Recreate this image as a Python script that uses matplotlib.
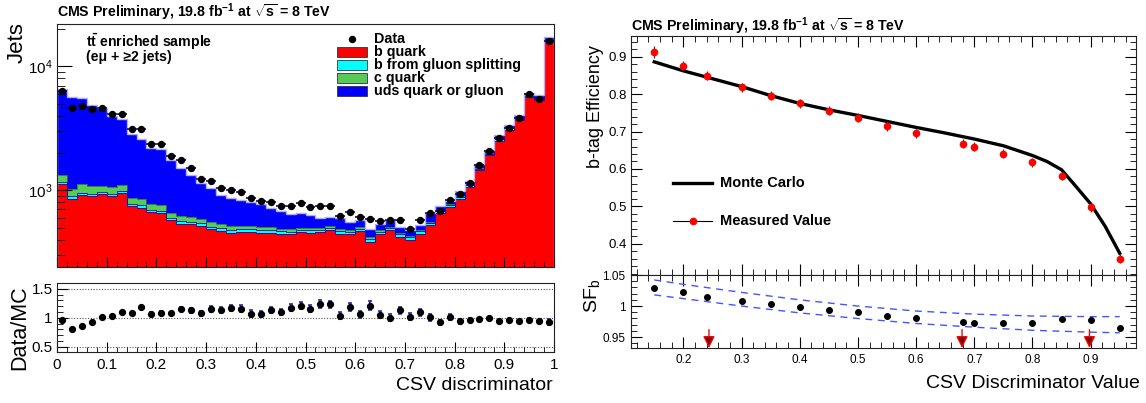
import numpy as np
import matplotlib
matplotlib.use("Agg")
import matplotlib.pyplot as plt
from matplotlib.ticker import MultipleLocator, FixedLocator, NullFormatter, FuncFormatter
from matplotlib.patches import Rectangle

plt.rcParams['font.family'] = ['Liberation Sans', 'DejaVu Sans']
plt.rcParams['mathtext.fontset'] = 'custom'
plt.rcParams['mathtext.rm'] = 'Liberation Sans'
plt.rcParams['mathtext.it'] = 'Liberation Sans:italic'
plt.rcParams['mathtext.bf'] = 'Liberation Sans:bold'

# ---------------- CSV discriminator distribution (50 bins, 0..1) ----------------
data = [6300, 4600, 4750, 4550, 4600, 4100, 4100, 3100, 3100, 2350,
        2350, 1880, 1745, 1500, 1240, 1190, 1050, 1000, 960, 862,
        826, 811, 747, 747, 795, 730, 747, 747, 617, 665,
        605, 591, 562, 570, 575, 490, 575, 656, 685, 841,
        929, 1138, 1590, 2075, 2630, 3200, 3810, 5940, 5490, 16000]

b_quark = [1118, 850, 911, 895, 929, 895, 951, 747, 725, 668,
           656, 573, 538, 532, 515, 484, 469, 453, 461, 461,
           455, 455, 444, 441, 457, 455, 457, 476, 447, 441,
           470, 383, 441, 476, 421, 400, 447, 522, 656, 734,
           857, 1063, 1450, 1915, 2500, 3085, 3670, 5650, 5370, 15700]

b_gluon_split = [50, 45, 47, 45, 35, 40, 35, 33, 32, 30,
                 30, 28, 27, 26, 25, 24, 23, 22, 22, 22,
                 22, 22, 21, 21, 21, 21, 21, 21, 20, 20,
                 20, 20, 20, 20, 20, 19, 20, 22, 25, 27,
                 30, 35, 45, 55, 70, 85, 100, 150, 140, 420]

c_quark = [150, 135, 160, 140, 115, 125, 110, 80, 85, 75,
           75, 60, 55, 50, 45, 42, 40, 35, 30, 28,
           30, 25, 22, 25, 22, 20, 20, 18, 18, 18,
           16, 15, 14, 13, 14, 12, 12, 12, 12, 12,
           12, 12, 14, 16, 18, 20, 22, 30, 28, 60]

uds_gluon = [5245, 4649, 4425, 3834, 3494, 2905, 2631, 2010, 1763, 1423,
             1395, 1080, 897, 724, 563, 485, 389, 348, 315, 292,
             270, 216, 194, 151, 157, 137, 104, 92, 112, 80,
             66, 70, 60, 61, 54, 49, 44, 96, 52, 52,
             92, 75, 118, 110, 201, 143, 248, 294, 284, 1024]

ratio_err = [0.015, 0.015, 0.015, 0.015, 0.015, 0.017, 0.018, 0.02, 0.02, 0.022,
             0.022, 0.025, 0.03, 0.04, 0.045, 0.05, 0.05, 0.055, 0.055, 0.055,
             0.055, 0.055, 0.055, 0.06, 0.06, 0.06, 0.065, 0.065, 0.06, 0.065,
             0.06, 0.07, 0.06, 0.06, 0.06, 0.06, 0.06, 0.055, 0.05, 0.05,
             0.045, 0.03, 0.025, 0.025, 0.02, 0.02, 0.02, 0.02, 0.02, 0.05]

# ---------------- b-tag efficiency vs CSV working point ----------------
wp_csv = [0.15, 0.20, 0.24, 0.30, 0.35, 0.40, 0.45, 0.50, 0.55, 0.60,
          0.68, 0.70, 0.75, 0.80, 0.85, 0.90, 0.95]
eff_meas = [0.912, 0.876, 0.849, 0.818, 0.796, 0.775, 0.755, 0.737, 0.714, 0.696,
            0.667, 0.659, 0.641, 0.618, 0.582, 0.498, 0.361]
eff_err = [0.015, 0.012, 0.012, 0.012, 0.012, 0.012, 0.012, 0.012, 0.012, 0.012,
           0.012, 0.012, 0.012, 0.012, 0.012, 0.012, 0.012]

mc_csv = [0.15, 0.20, 0.25, 0.30, 0.35, 0.40, 0.45, 0.50, 0.55, 0.60,
          0.65, 0.70, 0.75, 0.80, 0.825, 0.85, 0.875, 0.90, 0.925, 0.95]
mc_eff = [0.886, 0.862, 0.841, 0.820, 0.796, 0.775, 0.758, 0.743, 0.727, 0.711,
          0.696, 0.680, 0.662, 0.636, 0.620, 0.598, 0.553, 0.507, 0.447, 0.375]

sf_b = [1.0295, 1.022, 1.014, 1.0076, 1.0026, 0.998, 0.994, 0.991, 0.984, 0.981,
        0.975, 0.973, 0.972, 0.973, 0.979, 0.978, 0.965]

band_csv = [0.15, 0.20, 0.30, 0.40, 0.50, 0.60, 0.70, 0.80, 0.90, 0.95]
sf_band_up = [1.042, 1.035, 1.022, 1.010, 1.000, 0.992, 0.987, 0.984, 0.983, 0.983]
sf_band_dn = [1.018, 1.012, 1.000, 0.989, 0.980, 0.972, 0.966, 0.961, 0.958, 0.957]

working_points = [0.244, 0.679, 0.898]

W, H = 1146, 403
fig = plt.figure(figsize=(W / 100, H / 100), dpi=100)


def box(l, t, r, b):
    return [l / W, 1 - b / H, (r - l) / W, (b - t) / H]


axL = fig.add_axes(box(57, 24, 554, 267))
axLr = fig.add_axes(box(57, 283, 554, 352))
axR = fig.add_axes(box(631, 36, 1136, 275))
axRr = fig.add_axes(box(631, 275, 1136, 348))

for ax in (axL, axLr, axR, axRr):
    for s in ax.spines.values():
        s.set_linewidth(0.8)
        s.set_color('#222222')

# ---------------- stacked histogram ----------------
edges = np.linspace(0, 1, 51)
centers = 0.5 * (edges[1:] + edges[:-1])
lv1 = np.array(b_quark, float)
lv2 = lv1 + np.array(b_gluon_split)
lv3 = lv2 + np.array(c_quark)
lv4 = lv3 + np.array(uds_gluon)
data_a = np.array(data, float)

axL.stairs(lv4, edges, baseline=lv3, fill=True, color='#0000ff', lw=0)
axL.stairs(lv3, edges, baseline=lv2, fill=True, color='#55cc55', lw=0)
axL.stairs(lv2, edges, baseline=lv1, fill=True, color='#00ffff', lw=0)
axL.stairs(lv1, edges, baseline=1, fill=True, color='#ff0000', lw=0)
axL.stairs(lv3, edges, color='#2a7a2a', lw=0.6)
axL.stairs(lv2, edges, color='#0000a0', lw=0.6)
axL.stairs(lv1, edges, color='#1010c0', lw=0.6)
axL.stairs(lv4, edges, color='#b0b0ff', lw=1.0)

axL.errorbar(centers, data_a, xerr=0.01, yerr=np.sqrt(data_a), fmt='o', ms=4.3,
             mfc='black', mec='black', ecolor='#101050', elinewidth=1.2, capsize=0, zorder=5)

axL.set_yscale('log')
axL.set_xlim(0, 1)
axL.set_ylim(240, 2.2e4)
axL.xaxis.set_major_locator(MultipleLocator(0.1))
axL.xaxis.set_minor_locator(MultipleLocator(0.02))
axL.xaxis.set_major_formatter(NullFormatter())
axL.yaxis.set_major_locator(FixedLocator([1e3, 1e4]))
axL.yaxis.set_minor_locator(FixedLocator([k * 10 ** e for e in (2, 3, 4) for k in range(2, 10)]))
axL.yaxis.set_minor_formatter(NullFormatter())
axL.yaxis.set_major_formatter(FuncFormatter(lambda v, p: r'$10^{%d}$' % round(np.log10(v))))
axL.tick_params(which='both', direction='in', top=False, right=False, labelsize=11, pad=3)
axL.tick_params(axis='x', which='major', length=7)
axL.tick_params(axis='x', which='minor', length=3.5)
axL.tick_params(axis='y', which='major', length=11)
axL.tick_params(axis='y', which='minor', length=5.5)


# legend of the stack
def px(l, t, r, b, x, y):
    return ((x - l) / (r - l), (b - y) / (b - t))


L = (57, 24, 554, 267)
mx, my = px(*L, 352, 39)
axL.plot([mx], [my], 'o', ms=4.3, color='black', transform=axL.transAxes, clip_on=False)
leg_rows = [('b quark', '#ff0000', 52), ('b from gluon splitting', '#00ffff', 65),
            ('c quark', '#55cc55', 78), ('uds quark or gluon', '#0000ff', 91)]
tx, _ = px(*L, 374, 0)
axL.text(tx, my, 'Data', transform=axL.transAxes, fontsize=10.3, fontweight='bold', va='center')
for lab, col, yc in leg_rows:
    x0, y0 = px(*L, 337, yc + 5)
    x1, y1 = px(*L, 367, yc - 5)
    axL.add_patch(Rectangle((x0, y0), x1 - x0, y1 - y0, transform=axL.transAxes,
                            facecolor=col, edgecolor='#333333', lw=0.6))
    axL.text(tx, (y0 + y1) / 2, lab, transform=axL.transAxes, fontsize=10.3,
             fontweight='bold', va='center')

fig.text(86 / W, 1 - 42 / H, r'$\mathbf{t\bar{t}}$ enriched sample', fontsize=10.2,
         fontweight='bold', va='center')
fig.text(86 / W, 1 - 57 / H, '(eμ + ≥2 jets)', fontsize=10.2, fontweight='bold', va='center')

# ---------------- Data/MC ratio ----------------
ratio = data_a / lv4
for yv in (0.5, 1.0, 1.5):
    axLr.axhline(yv, color='#555555', ls=(0, (1, 1.5)), lw=0.8, zorder=1)
axLr.errorbar(centers, ratio, yerr=ratio_err, fmt='o', ms=4.2, mfc='black', mec='black',
              ecolor='#2a2ab0', elinewidth=1.5, capsize=1.6, capthick=1.2, zorder=3)
axLr.set_xlim(0, 1)
axLr.set_ylim(0.41, 1.6)
axLr.xaxis.set_major_locator(MultipleLocator(0.1))
axLr.xaxis.set_minor_locator(MultipleLocator(0.02))
axLr.yaxis.set_major_locator(MultipleLocator(0.5))
axLr.yaxis.set_minor_locator(MultipleLocator(0.1))
axLr.xaxis.set_major_formatter(FuncFormatter(lambda v, p: '%g' % round(v, 2)))
axLr.yaxis.set_major_formatter(FuncFormatter(lambda v, p: '%g' % round(v, 2)))
axLr.tick_params(which='both', direction='in', top=False, right=False, labelsize=11)
axLr.tick_params(axis='x', which='major', length=7, pad=4)
axLr.tick_params(axis='x', which='minor', length=3.5)
axLr.tick_params(axis='y', which='major', length=8, pad=3)
axLr.tick_params(axis='y', which='minor', length=4)

fig.text(17 / W, 1 - 43 / H, 'Jets', rotation=90, fontsize=16, ha='center', va='center')
fig.text(20 / W, 1 - 328 / H, 'Data/MC', rotation=90, fontsize=15.5, ha='center', va='center')
fig.text(553 / W, 1 - 385 / H, 'CSV discriminator', fontsize=14, ha='right', va='center')

title = r'CMS Preliminary, 19.8 fb$^{\mathbf{-1}}$ at $\mathbf{\sqrt{s}}$ = 8 TeV'
fig.text(57 / W, 1 - 12 / H, title, fontsize=10.2, fontweight='bold', va='center')
fig.text(631 / W, 1 - 26 / H, title, fontsize=10.2, fontweight='bold', va='center')

# ---------------- efficiency ----------------
axR.plot(mc_csv, mc_eff, color='black', lw=2.4, zorder=2)
axR.errorbar(wp_csv, eff_meas, yerr=eff_err, fmt='o', ms=4.5, mfc='red', mec='red',
             ecolor='#333333', elinewidth=0.9, capsize=0, zorder=3)
axR.set_xlim(0.11, 0.978)
axR.set_ylim(0.317, 0.955)
axR.xaxis.set_major_locator(MultipleLocator(0.1))
axR.xaxis.set_minor_locator(MultipleLocator(0.02))
axR.yaxis.set_major_locator(MultipleLocator(0.1))
axR.yaxis.set_minor_locator(MultipleLocator(0.02))
axR.xaxis.set_major_formatter(NullFormatter())
axR.yaxis.set_major_formatter(FuncFormatter(lambda v, p: '%.1f' % v))
axR.tick_params(which='both', direction='in', top=True, right=True, labelsize=9.5)
axR.tick_params(which='major', length=8, pad=3)
axR.tick_params(which='minor', length=4)

Rb = (631, 36, 1136, 275)
x0, y0 = px(*Rb, 673, 183)
x1, _ = px(*Rb, 712, 183)
axR.plot([x0, x1], [y0, y0], color='black', lw=2.4, transform=axR.transAxes)
tx, _ = px(*Rb, 720, 0)
axR.text(tx, y0, 'Monte Carlo', transform=axR.transAxes, fontsize=10.5, fontweight='bold', va='center')
_, y2 = px(*Rb, 673, 221)
axR.plot([x0, x1], [y2, y2], color='black', lw=0.8, transform=axR.transAxes)
axR.plot([(x0 + x1) / 2], [y2], 'o', ms=4.5, color='red', transform=axR.transAxes)
axR.text(tx, y2, 'Measured Value', transform=axR.transAxes, fontsize=10.5, fontweight='bold', va='center')

fig.text(596 / W, 1 - 107 / H, 'b-tag Efficiency', rotation=90, fontsize=13, ha='center', va='center')

# ---------------- scale factor ----------------
axRr.plot(band_csv, sf_band_up, color='#4455ff', lw=1.0, dashes=(5, 4))
axRr.plot(band_csv, sf_band_dn, color='#4455ff', lw=1.0, dashes=(5, 4))
axRr.plot(wp_csv, sf_b, 'o', ms=4, color='black', zorder=3)
ylo = 0.9325
for wp in working_points:
    axRr.annotate('', xy=(wp, ylo), xytext=(wp, 0.962),
                  arrowprops=dict(arrowstyle='-|>,head_length=0.7,head_width=0.35',
                                  fc='#700000', ec='red', lw=1.0, shrinkA=0, shrinkB=0))
axRr.set_xlim(0.11, 0.978)
axRr.set_ylim(ylo, 1.05)
axRr.xaxis.set_major_locator(MultipleLocator(0.1))
axRr.xaxis.set_minor_locator(MultipleLocator(0.02))
axRr.yaxis.set_major_locator(MultipleLocator(0.05))
axRr.yaxis.set_minor_locator(MultipleLocator(0.01))
axRr.xaxis.set_major_formatter(FuncFormatter(lambda v, p: '%g' % round(v, 2)))
axRr.yaxis.set_major_formatter(FuncFormatter(lambda v, p: '%g' % round(v, 2)))
axRr.tick_params(which='both', direction='in', top=True, right=True, labelsize=8.5)
axRr.tick_params(which='major', length=8, pad=4)
axRr.tick_params(which='minor', length=4)

fig.text(592 / W, 1 - 296 / H, r'SF$_{\mathrm{b}}$', rotation=90, fontsize=14, ha='center', va='center')
fig.text(1140 / W, 1 - 384 / H, 'CSV Discriminator Value', fontsize=14, ha='right', va='center')

fig.savefig('out.png', dpi=100)
